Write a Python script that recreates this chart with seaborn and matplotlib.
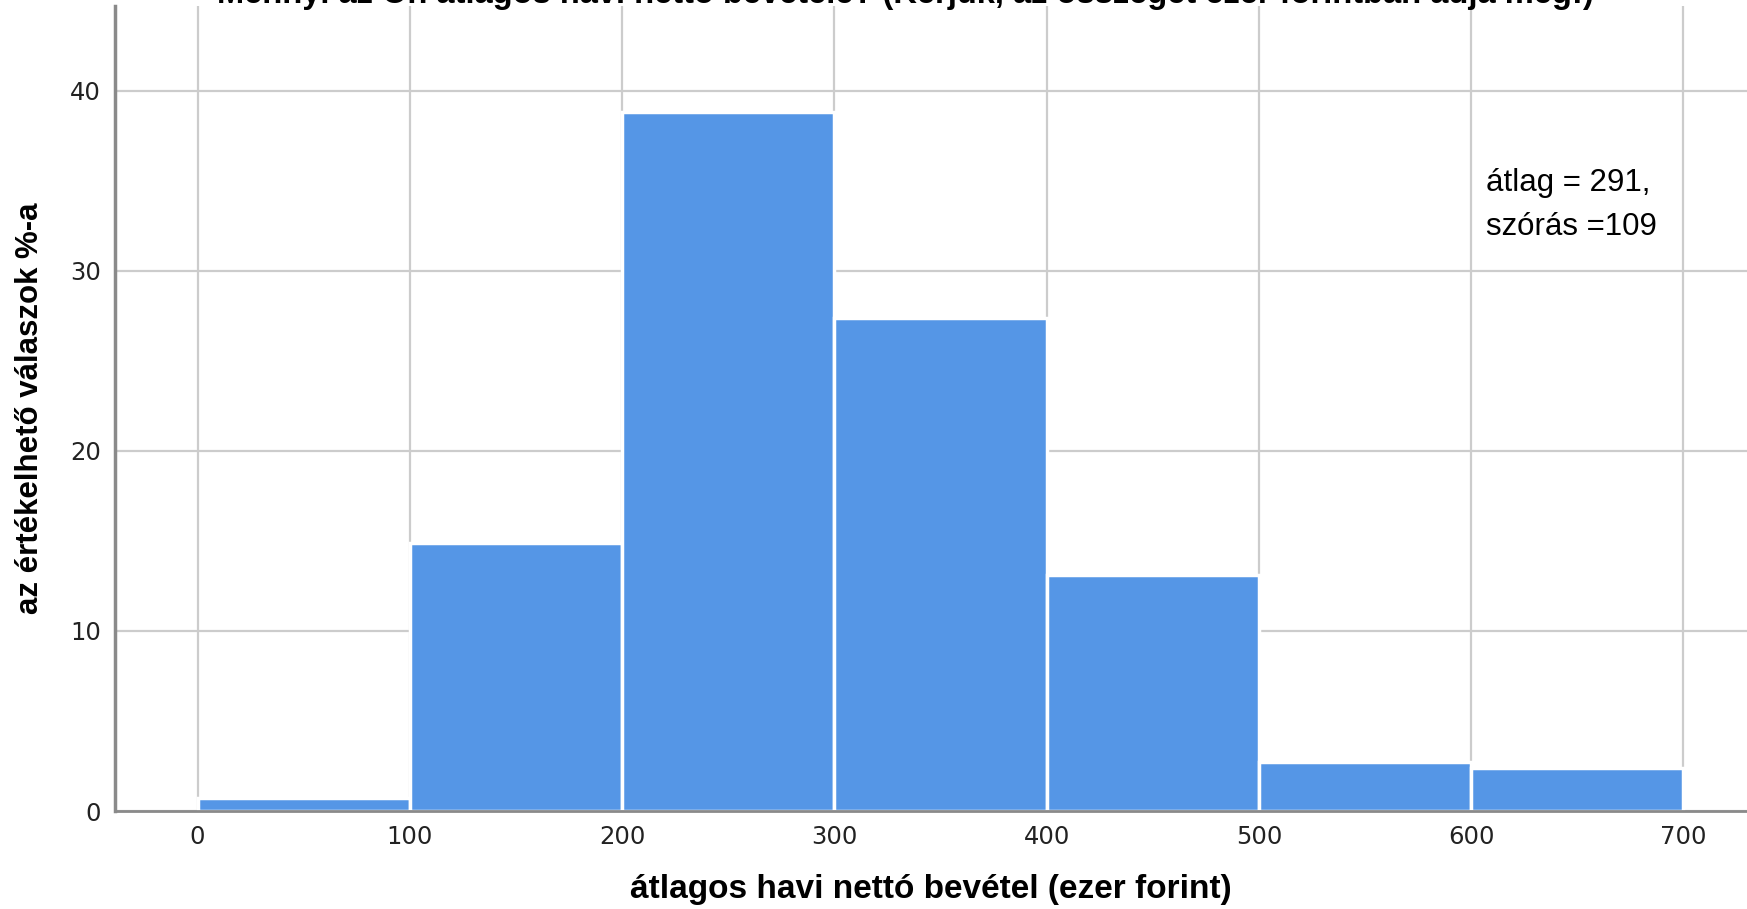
import numpy as np
import pandas as pd
from matplotlib import pyplot as plt
import seaborn as sns

# Binned income distribution (percent of valid answers per 100k bin)
bin_edges = [0, 100, 200, 300, 400, 500, 600, 700]
bin_mids = [50, 150, 250, 350, 450, 550, 650]
percents = [0.7, 14.9, 38.8, 27.4, 13.1, 2.7, 2.4]

title = "Mennyi az Ön átlagos havi nettó bevétele? (Kérjük, az összeget ezer forintban adja meg!)"
xlabel = "átlagos havi nettó bevétel (ezer forint)"
ylabel = "az értékelhető válaszok %-a"
note = "átlag = 291,\nszórás =109"

df = pd.DataFrame({'bevétel': bin_mids, 'százalék': percents})

sns.set_style('white')
plt.rcParams['font.family'] = ['Liberation Sans', 'DejaVu Sans']
plt.rcParams['text.color'] = 'black'

fig = plt.figure(figsize=(17.47, 9.09), dpi=100)
ax = fig.add_axes([0.0657, 0.1078, 0.9343, 0.8856])

sns.histplot(data=df, x='bevétel', weights='százalék', bins=bin_edges,
             color='#5596E6', alpha=1, edgecolor='white', linewidth=2.5, ax=ax)

ax.set_xlim(-39, 730)
ax.set_ylim(0, 44.7)
ax.set_xticks(bin_edges)
ax.set_yticks([0, 10, 20, 30, 40])
ax.set_axisbelow(True)
ax.grid(True, color='#cccccc', linewidth=1.6)
ax.tick_params(length=0, labelsize=17.5, colors='#222222')
ax.tick_params(axis='y', pad=10)
ax.tick_params(axis='x', pad=10)
for lab in ax.get_xticklabels() + ax.get_yticklabels():
    lab.set_family('DejaVu Sans')

for s in ['top', 'right']:
    ax.spines[s].set_visible(False)
ax.spines['left'].set_color('#8a8a8a')
ax.spines['left'].set_linewidth(2.5)
ax.spines['bottom'].set_color('#8a8a8a')
ax.spines['bottom'].set_linewidth(2)

ax.set_xlabel(xlabel, fontsize=24, fontweight='bold', labelpad=18, color='black')
ax.set_ylabel(ylabel, fontsize=22.5, fontweight='bold', labelpad=18, color='black')

ax.text(0.8506, 0.815, note, transform=fig.transFigure, fontsize=22.5,
        va='top', ha='left', linespacing=1.6, color='black')
fig.text(0.518, 0.9967, title, fontsize=23.5, fontweight='bold',
         ha='center', va='baseline', color='black')

plt.savefig('out.png', dpi=100)
